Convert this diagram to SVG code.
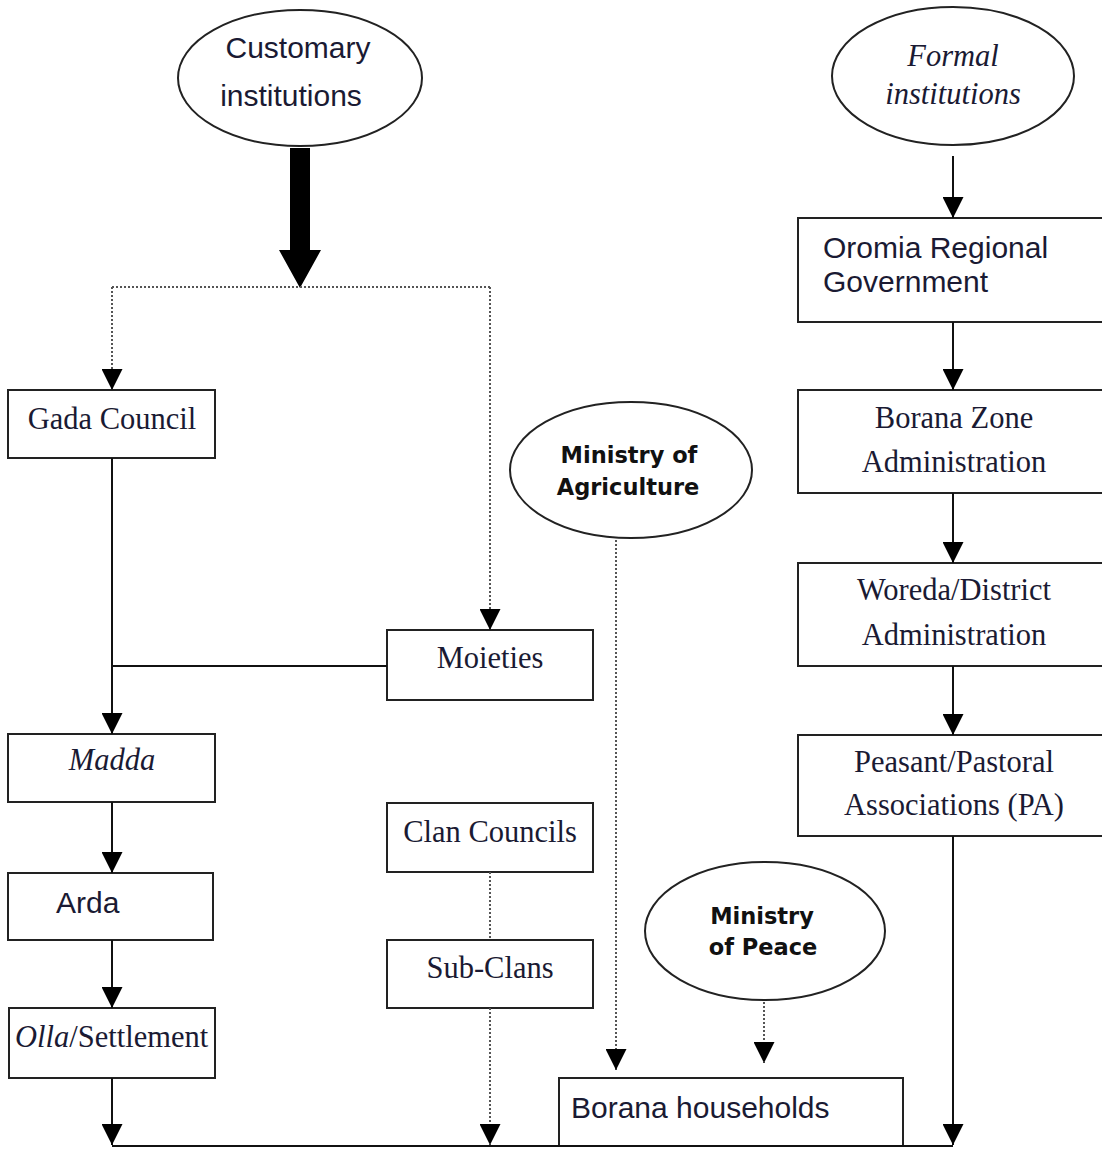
<svg xmlns="http://www.w3.org/2000/svg" width="1102" height="1149" viewBox="0 0 1102 1149">
<style>
.box{fill:#fff;stroke:#222;stroke-width:2}
.ell{fill:#fff;stroke:#222;stroke-width:2}
.ser{font-family:"Liberation Serif","Times New Roman",serif;font-size:30.5px;fill:#1a1a33}
.san{font-family:"Liberation Sans",Arial,sans-serif;font-size:30px;fill:#1a1a33}
.bld{font-family:"DejaVu Sans","Liberation Sans",sans-serif;font-weight:bold;font-size:22.5px;fill:#111}
.solid{fill:none;stroke:#111;stroke-width:2}
.dot{fill:none;stroke:#555;stroke-width:2;stroke-dasharray:2 2}
</style>
<defs>
<marker id="ah" viewBox="0 0 20 20" refX="20" refY="10" markerWidth="21" markerHeight="21" markerUnits="userSpaceOnUse" orient="auto">
<path d="M0,0 L20,10 L0,20 z" fill="#000"/>
</marker>
</defs>
<rect width="1102" height="1149" fill="#fff"/>

<g id="customary">
<ellipse class="ell" cx="300" cy="78" rx="122" ry="68"/>
<text class="san" x="298" y="58" text-anchor="middle">Customary</text>
<text class="san" x="291" y="106" text-anchor="middle">institutions</text>
</g>

<g id="formal">
<ellipse class="ell" cx="953" cy="76" rx="121" ry="69"/>
<text class="ser" x="953" y="66" text-anchor="middle" font-style="italic" font-size="30">Formal</text>
<text class="ser" x="953" y="104" text-anchor="middle" font-style="italic" font-size="30">institutions</text>
</g>

<g id="gada">
<rect class="box" x="8" y="390" width="207" height="68"/>
<text class="ser" x="112" y="429" text-anchor="middle">Gada Council</text>
</g>

<g id="moieties">
<rect class="box" x="387" y="630" width="206" height="70"/>
<text class="ser" x="490" y="668" text-anchor="middle">Moieties</text>
</g>

<g id="madda">
<rect class="box" x="8" y="734" width="207" height="68"/>
<text class="ser" x="112" y="770" text-anchor="middle" font-style="italic">Madda</text>
</g>

<g id="arda">
<rect class="box" x="8" y="873" width="205" height="67"/>
<text class="san" x="56" y="913">Arda</text>
</g>

<g id="olla">
<rect class="box" x="9" y="1008" width="206" height="70"/>
<text class="ser" x="15" y="1047"><tspan font-style="italic">Olla</tspan>/Settlement</text>
</g>

<g id="clan">
<rect class="box" x="387" y="803" width="206" height="69"/>
<text class="ser" x="490" y="842" text-anchor="middle">Clan Councils</text>
</g>

<g id="subclans">
<rect class="box" x="387" y="940" width="206" height="68"/>
<text class="ser" x="490" y="978" text-anchor="middle">Sub-Clans</text>
</g>

<g id="agriculture">
<ellipse class="ell" cx="631" cy="470" rx="121" ry="68"/>
<text class="bld" x="629" y="463" text-anchor="middle">Ministry of</text>
<text class="bld" x="628" y="495" text-anchor="middle">Agriculture</text>
</g>

<g id="peace">
<ellipse class="ell" cx="765" cy="931" rx="120" ry="69"/>
<text class="bld" x="762" y="924" text-anchor="middle">Ministry</text>
<text class="bld" x="763" y="955" text-anchor="middle">of Peace</text>
</g>

<g id="households">
<rect class="box" x="559" y="1078" width="344" height="68"/>
<text class="san" x="571" y="1118" font-size="30.5">Borana households</text>
</g>

<g id="oromia">
<rect class="box" x="798" y="218" width="320" height="104"/>
<text class="san" x="823" y="258" font-size="29.5">Oromia Regional</text>
<text class="san" x="823" y="292" font-size="29.5">Government</text>
</g>

<g id="zone">
<rect class="box" x="798" y="390" width="320" height="103"/>
<text class="ser" x="954" y="428" text-anchor="middle">Borana Zone</text>
<text class="ser" x="954" y="472" text-anchor="middle">Administration</text>
</g>

<g id="woreda">
<rect class="box" x="798" y="563" width="320" height="103"/>
<text class="ser" x="954" y="600" text-anchor="middle">Woreda/District</text>
<text class="ser" x="954" y="645" text-anchor="middle">Administration</text>
</g>

<g id="pa">
<rect class="box" x="798" y="735" width="320" height="101"/>
<text class="ser" x="954" y="772" text-anchor="middle">Peasant/Pastoral</text>
<text class="ser" x="954" y="815" text-anchor="middle">Associations (PA)</text>
</g>

<g id="connectors">
<path d="M290,148 L310,148 L310,250 L321,250 L300,288 L279,250 L290,250 z" fill="#000"/>
<path class="dot" d="M112,287 L490,287"/>
<path class="dot" d="M112,287 L112,390" marker-end="url(#ah)"/>
<path class="dot" d="M490,287 L490,630" marker-end="url(#ah)"/>
<path class="solid" d="M112,458 L112,734" marker-end="url(#ah)"/>
<path class="solid" d="M112,666 L387,666"/>
<path class="solid" d="M112,802 L112,873" marker-end="url(#ah)"/>
<path class="solid" d="M112,940 L112,1008" marker-end="url(#ah)"/>
<path class="solid" d="M112,1078 L112,1145" marker-end="url(#ah)"/>
<path class="dot" d="M490,872 L490,940"/>
<path class="dot" d="M490,1008 L490,1145" marker-end="url(#ah)"/>
<path class="dot" d="M616,540 L616,1070" marker-end="url(#ah)"/>
<path class="dot" d="M764,1002 L764,1063" marker-end="url(#ah)"/>
<path class="solid" d="M953,156 L953,218" marker-end="url(#ah)"/>
<path class="solid" d="M953,322 L953,390" marker-end="url(#ah)"/>
<path class="solid" d="M953,493 L953,563" marker-end="url(#ah)"/>
<path class="solid" d="M953,666 L953,735" marker-end="url(#ah)"/>
<path class="solid" d="M953,836 L953,1145" marker-end="url(#ah)"/>
<path class="solid" d="M112,1146 L953,1146"/>
</g>
</svg>
